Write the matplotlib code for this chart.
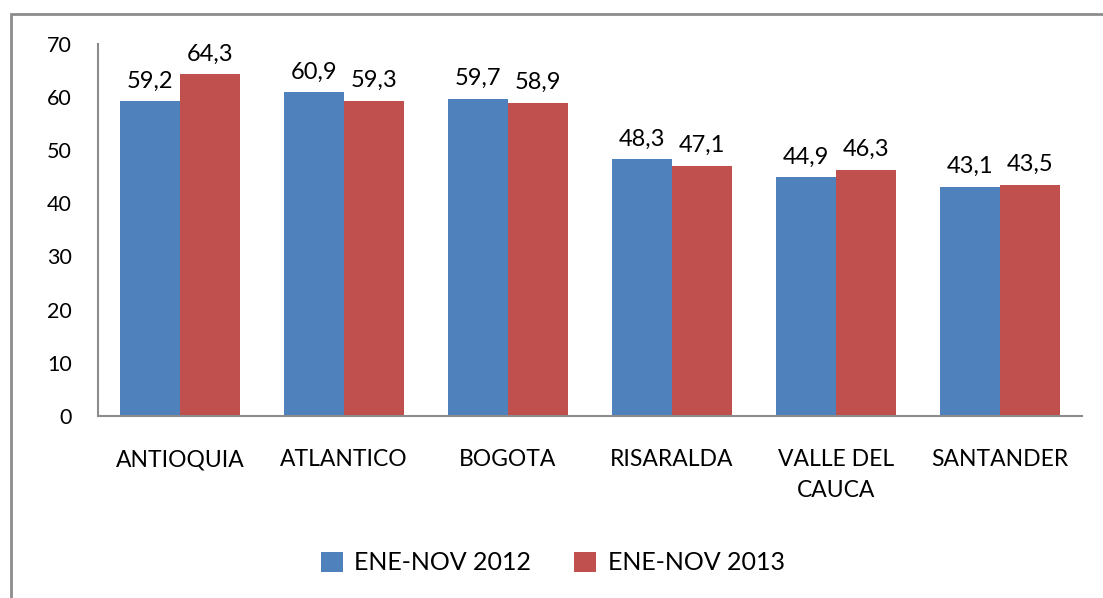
import numpy as np
import matplotlib
matplotlib.use("Agg")
import matplotlib.pyplot as plt
from matplotlib.patches import Rectangle

plt.rcParams['font.family'] = ['Lato', 'DejaVu Sans']

# data
categories = ["ANTIOQUIA", "ATLANTICO", "BOGOTA", "RISARALDA", "VALLE DEL\nCAUCA", "SANTANDER"]
series_names = ["ENE-NOV 2012", "ENE-NOV 2013"]
values_2012 = [59.2, 60.9, 59.7, 48.3, 44.9, 43.1]
values_2013 = [64.3, 59.3, 58.9, 47.1, 46.3, 43.5]
yticks = [0, 10, 20, 30, 40, 50, 60, 70]

blue = "#4F81BD"
red = "#C0504D"

fig = plt.figure(figsize=(11.03, 5.98), dpi=100)
fig.patch.set_facecolor("white")

# outer chart frame (runs off the right/bottom edges like the screenshot)
fig.add_artist(Rectangle((11 / 1103, -0.05), 1.2, 1 - 14 / 598 + 0.05,
                         transform=fig.transFigure, fill=False,
                         edgecolor="#8c8c8c", linewidth=2))

ax = fig.add_axes([98 / 1103, 1 - 415.7 / 598, (1082 - 98) / 1103, (415.7 - 44) / 598])

x = np.arange(len(categories))
w = 0.366
b1 = ax.bar(x - w / 2, values_2012, w, color=blue, label=series_names[0])
b2 = ax.bar(x + w / 2, values_2013, w, color=red, label=series_names[1])

for bars, vals in [(b1, values_2012), (b2, values_2013)]:
    for bar, v in zip(bars, vals):
        ax.annotate(f"{v:.1f}".replace(".", ","),
                    (bar.get_x() + bar.get_width() / 2, v),
                    xytext=(0, 7), textcoords="offset points",
                    ha="center", va="bottom", fontsize=17)

ax.set_xlim(-0.5, len(categories) - 0.5)
ax.set_ylim(0, 70)
ax.set_yticks(yticks)
ax.set_xticks(x)
ax.set_xticklabels(categories, fontsize=16.5, linespacing=1.6, va="top")
ax.tick_params(axis="y", length=0, labelsize=15.5, pad=19)
ax.tick_params(axis="x", length=0, pad=24)

for s in ["top", "right"]:
    ax.spines[s].set_visible(False)
for s in ["left", "bottom"]:
    ax.spines[s].set_color("#8c8c8c")
    ax.spines[s].set_linewidth(1.5)

fig.legend(handles=[b1, b2], labels=series_names, loc="center",
           bbox_to_anchor=(0.501, 1 - 563 / 598), ncol=2, frameon=False,
           fontsize=18, handlelength=0.9, handleheight=0.9,
           handletextpad=0.45, columnspacing=1.7)

fig.savefig("out.png", dpi=100)
